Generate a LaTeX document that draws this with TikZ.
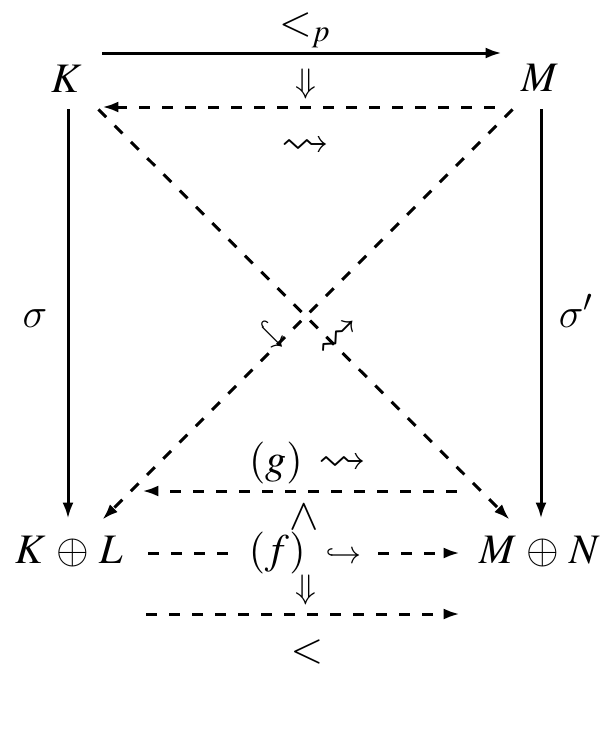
\documentclass[tikz,border=0pt]{standalone}
\usepackage{amsmath,amssymb}
\usepackage{mathptmx}
\usetikzlibrary{arrows.meta}
\DeclareSymbolFont{cmletters}{OML}{cmm}{m}{it}
\DeclareMathSymbol{\cmsigma}{\mathord}{cmletters}{"1B}
\pgfdeclarelayer{edgelayer}
\pgfdeclarelayer{nodelayer}
\pgfsetlayers{edgelayer,nodelayer,main}
\tikzstyle{none}=[inner sep=0pt]
\tikzstyle{object}=[inner sep=0pt, anchor=base, font=\fontsize{21}{25}\selectfont]
\tikzstyle{tag}=[inner sep=0pt, anchor=base, font=\fontsize{21}{25}\selectfont]
\tikzstyle{sign}=[inner sep=0pt, font=\fontsize{22}{26}\selectfont]
\tikzstyle{twoarrow}=[inner sep=0pt, font=\fontsize{17}{20}\selectfont]
\tikzstyle{hook}=[inner sep=0pt, font=\fontsize{16}{19}\selectfont]
\tikzstyle{squig}=[inner sep=0pt, font=\fontsize{24}{28}\selectfont]
\tikzstyle{solidarrow}=[->, >={Latex[length=8pt,width=5.5pt]}, line width=1.5pt]
\tikzstyle{dasharrow}=[->, >={Latex[length=8pt,width=5.5pt]}, line width=1.5pt, dash pattern=on 5.5pt off 6pt]
\begin{document}
\begin{tikzpicture}[x=0.5pt, y=-0.5pt]
	\useasboundingbox (0, 0) rectangle (616, 730);
	\begin{pgfonlayer}{nodelayer}
		\node [style=object] (K) at (67, 92) {$K$};
		\node [style=object] (M) at (540, 91) {$M$};
		\node [style=object] (KL) at (69, 563) {$K \,\oplus\, L$};
		\node [style=object] (MN) at (540, 563) {$M \,\oplus\, N$};

		\node [style=none] (Kt) at (101, 53) {};
		\node [style=none] (Mt) at (503, 53) {};
		\node [style=none] (Mh) at (496, 107) {};
		\node [style=none] (Kh) at (101, 107) {};
		\node [style=none] (Kd) at (68, 108) {};
		\node [style=none] (KLu) at (68, 520) {};
		\node [style=none] (Md) at (541, 108) {};
		\node [style=none] (MNu) at (541, 520) {};
		\node [style=none] (Kx) at (97, 108) {};
		\node [style=none] (MNx) at (511, 521) {};
		\node [style=none] (Mx) at (514, 108) {};
		\node [style=none] (KLx) at (101, 521) {};
		\node [style=none] (MNg) at (458, 491) {};
		\node [style=none] (KLg) at (141, 491) {};
		\node [style=none] (KLf) at (147, 553) {};
		\node [style=none] (MNf) at (461, 553) {};
		\node [style=none] (KLb) at (145, 614) {};
		\node [style=none] (MNb) at (461, 614) {};

		\node [style=tag] (lp) at (305, 35) {$<_p$};
		\node [style=twoarrow] (dn1) at (306, 84) {$\Downarrow$};
		\node [style=squig] (sq1) at (305, 147) {$\rightsquigarrow$};
		\node [style=tag] (s) at (35, 327) {$\cmsigma$};
		\node [style=tag] (sp) at (576, 327) {$\cmsigma'$};
		\node [style=hook, rotate=-45] (hk) at (271, 336) {$\hookrightarrow$};
		\node [style=squig, rotate=45] (sq2) at (340, 338) {$\rightsquigarrow$};
		\node [style=tag] (g) at (308, 473) {$(g)$\hspace{8pt}\fontsize{24}{28}\selectfont$\rightsquigarrow$};
		\node [style=sign] (w) at (304, 517) {$\wedge$};
		\node [style=tag, fill=white, inner xsep=7pt] (f) at (305, 563) {$(f)$\hspace{10pt}\fontsize{16}{19}\selectfont$\hookrightarrow$};
		\node [style=twoarrow] (dn2) at (306, 590) {$\Downarrow$};
		\node [style=tag, anchor=center] (lt) at (307, 652) {$<$};
	\end{pgfonlayer}
	\begin{pgfonlayer}{edgelayer}
		\draw [style=solidarrow] (Kt) to (Mt);
		\draw [style=dasharrow] (Mh) to (Kh);
		\draw [style=solidarrow] (Kd) to (KLu);
		\draw [style=solidarrow] (Md) to (MNu);
		\draw [style=dasharrow] (Kx) to (MNx);
		\draw [style=dasharrow] (Mx) to (KLx);
		\draw [style=dasharrow] (MNg) to (KLg);
		\draw [style=dasharrow] (KLf) to (MNf);
		\draw [style=dasharrow] (KLb) to (MNb);
	\end{pgfonlayer}
\end{tikzpicture}
\end{document}
